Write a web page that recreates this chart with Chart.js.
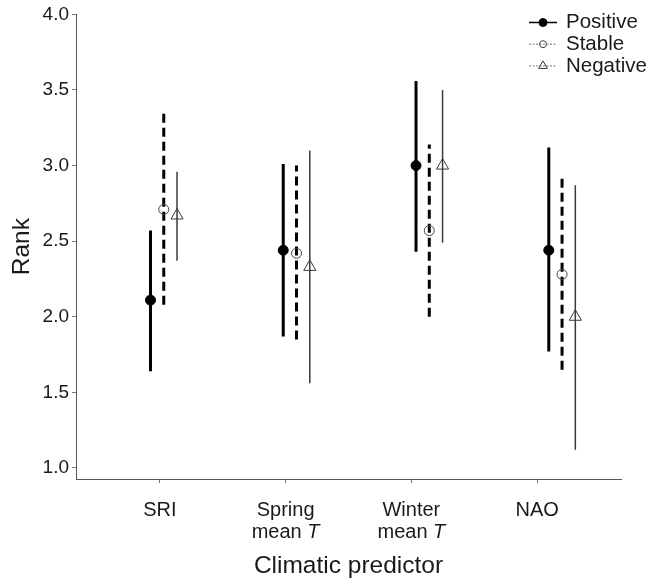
<!DOCTYPE html>
<html>
<head>
<meta charset="utf-8">
<script src="https://cdn.jsdelivr.net/npm/chart.js@4.4.1/dist/chart.umd.min.js"></script>
<style>
  body { margin: 0; background: #fff; }
  #wrap { width: 651px; height: 583px; }
</style>
</head>
<body>
<div id="wrap"><canvas id="rankChart" width="651" height="583"></canvas></div>
<script>
// Data
const tickLabels = [['SRI'], ['Spring', 'mean *T*'], ['Winter', 'mean *T*'], ['NAO']];
const seriesNames = ['Positive', 'Stable', 'Negative'];
const positiveMean = [2.11, 2.44, 3.00, 2.44];
const positiveLow = [1.64, 1.87, 2.43, 1.77];
const positiveHigh = [2.57, 3.01, 3.56, 3.12];
const stableMean = [2.71, 2.42, 2.57, 2.28];
const stableLow = [2.08, 1.85, 2.00, 1.65];
const stableHigh = [3.35, 3.00, 3.14, 2.92];
const negativeMean = [2.67, 2.33, 3.00, 2.00];
const negativeLow = [2.37, 1.56, 2.49, 1.12];
const negativeHigh = [2.96, 3.10, 3.50, 2.87];
const yTicks = [1.0, 1.5, 2.0, 2.5, 3.0, 3.5, 4.0];

Chart.defaults.font.family = "'Liberation Sans', Arial, Helvetica, sans-serif";
Chart.defaults.color = '#1a1a1a';

// low -> mean -> high for each predictor, null breaks the line between groups
function whiskers(low, mean, high, shift) {
    const pts = [];
    low.forEach((lo, i) => {
        const x = i + 1 + shift;
        pts.push({ x: x, y: lo }, { x: x, y: mean[i] }, { x: x, y: high[i] }, { x: x, y: null });
    });
    return pts;
}
const markerOnly = r => ctx => (ctx.dataIndex % 4 === 1 ? r : 0);

const styles = [
    { line: '#000', width: 3, dash: [], point: 'circle', r: 5, fill: '#000', stroke: '#000', legendR: 4, legendLine: '#000', legendDash: [] },
    { line: '#000', width: 3, dash: [9, 5], point: 'circle', r: 5, fill: 'rgba(0,0,0,0)', stroke: '#444', legendR: 3.5, legendLine: '#777', legendDash: [2, 1.5] },
    { line: '#3a3a3a', width: 1.5, dash: [], point: 'triangle', r: 7, fill: 'rgba(0,0,0,0)', stroke: '#3a3a3a', legendR: 5, legendLine: '#777', legendDash: [2, 1.5] }
];
const shifts = [-0.1, 0, 0.1];
const seriesData = [
    [positiveLow, positiveMean, positiveHigh],
    [stableLow, stableMean, stableHigh],
    [negativeLow, negativeMean, negativeHigh]
];

const datasets = seriesNames.map((name, k) => ({
    label: name,
    data: whiskers(seriesData[k][0], seriesData[k][1], seriesData[k][2], shifts[k]),
    xAxisID: 'dodge',
    yAxisID: 'y',
    borderColor: styles[k].line,
    borderWidth: styles[k].width,
    borderDash: styles[k].dash,
    borderCapStyle: 'butt',
    spanGaps: false,
    tension: 0,
    pointStyle: styles[k].point,
    pointRadius: markerOnly(styles[k].r),
    pointHoverRadius: markerOnly(styles[k].r),
    pointBackgroundColor: styles[k].fill,
    pointBorderColor: styles[k].stroke,
    pointBorderWidth: 1
}));

// tick labels (with italic T) and the legend, drawn on top
const overlay = {
    id: 'overlay',
    afterDraw(chart) {
        const ctx = chart.ctx;
        const xs = chart.scales.x;
        const base = chart.chartArea.bottom;
        ctx.save();
        ctx.fillStyle = '#1a1a1a';
        ctx.textBaseline = 'middle';
        tickLabels.forEach((lines, i) => {
            const cx = xs.getPixelForValue(i + 1);
            lines.forEach((line, j) => {
                const bits = line.split('*');
                const parts = [];
                bits.forEach((p, n) => {
                    if (p.length) parts.push({ text: p, font: (n % 2 ? 'italic ' : '') + "20px 'Liberation Sans', Arial, sans-serif" });
                });
                let total = 0;
                parts.forEach(p => { ctx.font = p.font; total += ctx.measureText(p.text).width; });
                let x = cx - total / 2;
                const y = base + 31 + j * 22;
                ctx.textAlign = 'left';
                parts.forEach(p => { ctx.font = p.font; ctx.fillText(p.text, x, y); x += ctx.measureText(p.text).width; });
            });
        });

        // legend
        seriesNames.forEach((name, k) => {
            const y = 22.5 + k * 21.7;
            const s = styles[k];
            ctx.strokeStyle = s.legendLine;
            ctx.lineWidth = k === 0 ? 1.5 : 1;
            ctx.setLineDash(s.legendDash);
            ctx.beginPath();
            ctx.moveTo(529, y);
            ctx.lineTo(557, y);
            ctx.stroke();
            ctx.setLineDash([]);
            ctx.fillStyle = s.fill;
            ctx.strokeStyle = s.stroke;
            ctx.lineWidth = 1;
            Chart.helpers.drawPoint(ctx, { pointStyle: s.point, radius: s.legendR, rotation: 0, borderWidth: 1 }, 543, y);
            ctx.fillStyle = '#1a1a1a';
            ctx.font = "20.5px 'Liberation Sans', Arial, sans-serif";
            ctx.textAlign = 'left';
            ctx.fillText(name, 566, y);
        });
        ctx.restore();
    }
};

new Chart(document.getElementById('rankChart'), {
    type: 'line',
    data: { datasets: datasets },
    options: {
        responsive: false,
        animation: false,
        layout: { padding: { top: 14, right: 30, bottom: 0, left: 0 } },
        plugins: { legend: { display: false }, tooltip: { enabled: false } },
        scales: {
            x: {
                type: 'linear',
                position: 'bottom',
                min: 1 / 3,
                max: 14 / 3,
                afterBuildTicks: s => { s.ticks = [1, 2, 3, 4].map(v => ({ value: v })); },
                afterFit: s => { s.height = 104; },
                ticks: { display: false },
                grid: { drawOnChartArea: false, drawTicks: true, tickLength: 4, color: '#777' },
                border: { color: '#555', width: 1 },
                title: { display: true, text: 'Climatic predictor', font: { size: 24.5 }, color: '#1a1a1a', padding: { top: 0, bottom: 2 } }
            },
            dodge: {
                type: 'linear',
                display: false,
                min: 0.339,
                max: 4.444
            },
            y: {
                min: 0.927,
                max: 4.0,
                afterBuildTicks: s => { s.ticks = yTicks.map(v => ({ value: v })); },
                afterFit: s => { s.width = 76; },
                ticks: { callback: v => v.toFixed(1), font: { size: 19 }, color: '#1a1a1a', padding: 3 },
                grid: { drawOnChartArea: false, drawTicks: true, tickLength: 4, color: '#777' },
                border: { color: '#555', width: 1 },
                title: { display: true, text: 'Rank', font: { size: 24.5 }, color: '#1a1a1a', padding: { top: 8, bottom: 0 } }
            }
        }
    },
    plugins: [overlay]
});
</script>
</body>
</html>
